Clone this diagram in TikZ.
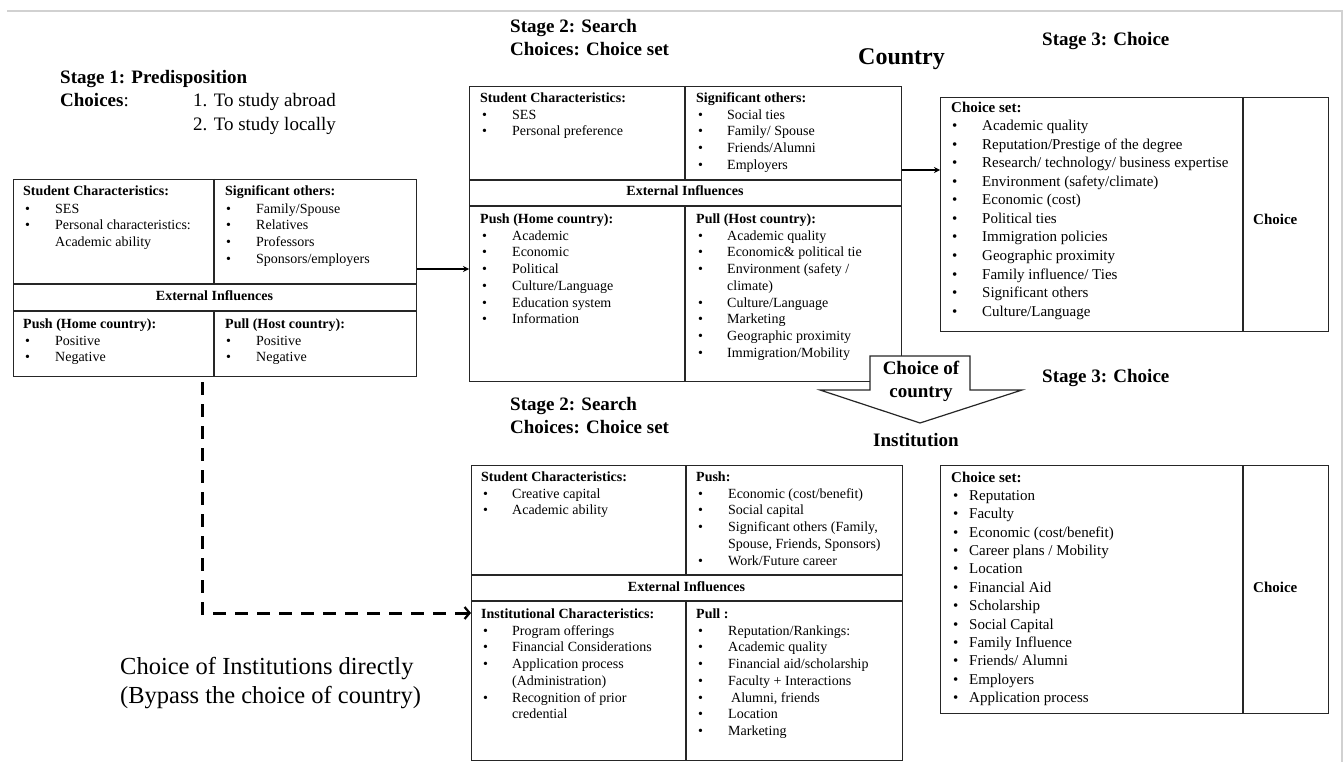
\documentclass[tikz,border=0pt]{standalone}
\usepackage{fontspec}
\setmainfont{Liberation Serif}
\usetikzlibrary{arrows.meta}
\newcommand\bodyfont{\fontsize{14pt}{16pt}\selectfont}
\newcommand\setfont{\fontsize{15pt}{17pt}\selectfont}
\newcommand\headfont{\fontsize{19pt}{22pt}\selectfont}
\newcommand\colitems[6]{%
  \foreach \mybul/\mytxt [count=\myi] in {#6}{%
    \pgfmathsetmacro\myy{#4+(\myi-1)*#5}%
    \ifnum\mybul=1 \node[txt] (#1b\myi) at (#2,\myy) {•};\fi
    \node[txt] (#1t\myi) at (#3,\myy) {\mytxt};
  }}
\begin{document}
\begin{tikzpicture}[x=1pt,y=-1pt,
  txt/.style={anchor=west,inner sep=0pt,text height=0.7em,text depth=0.2em,font=\bodyfont},
  hd/.style={txt,font=\bodyfont\bfseries},
  ctr/.style={inner sep=0pt,text height=0.7em,text depth=0.2em,font=\bodyfont\bfseries},
  big/.style={anchor=west,inner sep=0pt,text height=0.7em,text depth=0.2em,font=\headfont\bfseries},
  box/.style={draw=black!85,line width=1.4pt,inner sep=0pt,anchor=north west},
  inner/.style={draw=black!85,line width=1.4pt},
  arr/.style={draw=black,line width=1.6pt,-{Stealth[length=6pt,width=6pt]}},
  dasharr/.style={draw=black,line width=3pt,dash pattern=on 13pt off 9pt,-{Straight Barb[length=5pt,width=12pt,line width=2.2pt]}}]
\useasboundingbox (0,0) rectangle (1344,762);
% frame
\draw[black!18,line width=1.5pt] (7,11) -- (1342,11) -- (1342,762);

% ---------- Stage 1 ----------
\node[big] (st1) at (60,81) {Stage 1: Predisposition};
\node[big] (ch1) at (60,104) {Choices\textmd{:}};
\node[big,font=\headfont] (ch1a) at (193,104) {1. To study abroad};
\node[big,font=\headfont] (ch1b) at (193,128) {2. To study locally};
\node[box,minimum width=403pt,minimum height=197pt] (s1) at (13,179) {};
\draw[inner] (214,179) -- (214,284) (13,284) -- (416,284) (13,311) -- (416,311) (214,311) -- (214,376);
\node[hd] (s1h1) at (23,193) {Student Characteristics:};
\colitems{s1a}{25}{55}{210.7}{16.7}{1/{SES},1/{Personal characteristics:},0/{Academic ability}}
\node[hd] (s1h2) at (225,193) {Significant others:};
\colitems{s1b}{226}{256}{210.7}{16.7}{1/{Family/Spouse},1/{Relatives},1/{Professors},1/{Sponsors/employers}}
\node[ctr] (s1ext) at (214.5,298) {External Influences};
\node[hd] (s1h3) at (23,326) {Push (Home country):};
\colitems{s1c}{25}{55}{342.7}{16.7}{1/{Positive},1/{Negative}}
\node[hd] (s1h4) at (225,326) {Pull (Host country):};
\colitems{s1d}{226}{256}{342.7}{16.7}{1/{Positive},1/{Negative}}

% ---------- Stage 2 top ----------
\node[big] (st2a) at (510,30) {Stage 2: Search};
\node[big] (ch2a) at (510,53) {Choices: Choice set};
\node[big,font=\fontsize{24pt}{28pt}\selectfont\bfseries] (cty) at (858,62) {Country};
\node[box,minimum width=432pt,minimum height=295pt] (s2t) at (469,86) {};
\draw[inner] (685,86) -- (685,180) (469,180) -- (901,180) (469,206) -- (901,206) (685,206) -- (685,381);
\node[hd] (s2h1) at (480,100) {Student Characteristics:};
\colitems{s2a}{482}{512}{116.7}{16.7}{1/{SES},1/{Personal preference}}
\node[hd] (s2h2) at (696,100) {Significant others:};
\colitems{s2b}{698}{727}{116.7}{16.7}{1/{Social ties},1/{Family/ Spouse},1/{Friends/Alumni},1/{Employers}}
\node[ctr] (s2ext) at (685,193) {External Influences};
\node[hd] (s2h3) at (480,221) {Push (Home country):};
\colitems{s2c}{482}{512}{237.7}{16.7}{1/{Academic},1/{Economic},1/{Political},1/{Culture/Language},1/{Education system},1/{Information}}
\node[hd] (s2h4) at (696,221) {Pull (Host country):};
\colitems{s2d}{698}{727}{237.7}{16.7}{1/{Academic quality},1/{Economic\& political tie},1/{Environment (safety /},0/{climate)},1/{Culture/Language},1/{Marketing},1/{Geographic proximity},1/{Immigration/Mobility}}

% ---------- Stage 3 top ----------
\node[big] (st3a) at (1042,43) {Stage 3: Choice};
\node[box,minimum width=388pt,minimum height=234pt] (s3t) at (940,97) {};
\draw[inner] (1243,97) -- (1243,331);
\begin{scope}[txt/.append style={font=\setfont}]
\node[hd,font=\setfont\bfseries] (s3h1) at (951,110) {Choice set:};
\colitems{s3a}{952}{982}{128.5}{18.5}{1/{Academic quality},1/{Reputation/Prestige of the degree},1/{Research/ technology/ business expertise},1/{Environment (safety/climate)},1/{Economic (cost)},1/{Political ties},1/{Immigration policies},1/{Geographic proximity},1/{Family influence/ Ties},1/{Significant others},1/{Culture/Language}}
\node[hd,font=\setfont\bfseries] (s3ch1) at (1253,222) {Choice};
\end{scope}

% ---------- Choice of country arrow ----------
\draw[fill=white,draw=black!85,line width=1.2pt] (870,356) -- (970,356) -- (970,390) -- (1022,390) -- (920,423) -- (820,390) -- (870,390) -- cycle;
\node[ctr,font=\headfont\bfseries] (coc1) at (921,372) {Choice of};
\node[ctr,font=\headfont\bfseries] (coc2) at (921,395) {country};

% ---------- Stage 2 bottom ----------
\node[big] (st2b) at (510,408) {Stage 2: Search};
\node[big] (ch2b) at (510,431) {Choices: Choice set};
\node[big] (inst) at (873,444) {Institution};
\node[box,minimum width=431pt,minimum height=295pt] (s2b) at (471,465) {};
\draw[inner] (686,465) -- (686,575) (471,575) -- (902,575) (471,601) -- (902,601) (686,601) -- (686,760);
\node[hd] (s4h1) at (481,479) {Student Characteristics:};
\colitems{s4a}{483}{512}{495.7}{16.7}{1/{Creative capital},1/{Academic ability}}
\node[hd] (s4h2) at (696,479) {Push:};
\colitems{s4b}{698}{728}{495.7}{16.7}{1/{Economic (cost/benefit)},1/{Social capital},1/{Significant others (Family,},0/{Spouse, Friends, Sponsors)},1/{Work/Future career}}
\node[ctr] (s4ext) at (686.5,589) {External Influences};
\node[hd] (s4h3) at (481,616) {Institutional Characteristics:};
\colitems{s4c}{483}{512}{632.7}{16.7}{1/{Program offerings},1/{Financial Considerations},1/{Application process},0/{(Administration)},1/{Recognition of prior},0/{credential}}
\node[hd] (s4h4) at (696,616) {Pull :};
\colitems{s4d}{698}{728}{632.7}{16.7}{1/{Reputation/Rankings:},1/{Academic quality},1/{Financial aid/scholarship},1/{Faculty + Interactions},1/{\hspace{3pt}Alumni, friends},1/{Location},1/{Marketing}}

% ---------- Stage 3 bottom ----------
\node[big] (st3b) at (1042,380) {Stage 3: Choice};
\node[box,minimum width=388pt,minimum height=248pt] (s3b) at (940,465) {};
\draw[inner] (1243,465) -- (1243,713);
\begin{scope}[txt/.append style={font=\setfont}]
\node[hd,font=\setfont\bfseries] (s5h1) at (951,480) {Choice set:};
\colitems{s5a}{953}{969}{498}{18.36}{1/{Reputation},1/{Faculty},1/{Economic (cost/benefit)},1/{Career plans / Mobility},1/{Location},1/{Financial Aid},1/{Scholarship},1/{Social Capital},1/{Family Influence},1/{Friends/ Alumni},1/{Employers},1/{Application process}}
\node[hd,font=\setfont\bfseries] (s5ch1) at (1253,590) {Choice};
\end{scope}

% ---------- bypass text ----------
\node[txt,font=\fontsize{24.5pt}{28pt}\selectfont] (byp1) at (120,672) {Choice of Institutions directly};
\node[txt,font=\fontsize{24.5pt}{28pt}\selectfont] (byp2) at (120,701) {(Bypass the choice of country)};

% ---------- connectors ----------
\coordinate (a1) at (0,269);
\coordinate (a2) at (0,170);
\coordinate (d0) at (202,382);
\coordinate (d1) at (0,613);
\draw[arr] (s1.east |- a1) -- (s2t.west |- a1);
\draw[arr] (s2t.east |- a2) -- (s3t.west |- a2);
\draw[dasharr] (d0) |- (s2b.west |- d1);
\end{tikzpicture}
\end{document}
